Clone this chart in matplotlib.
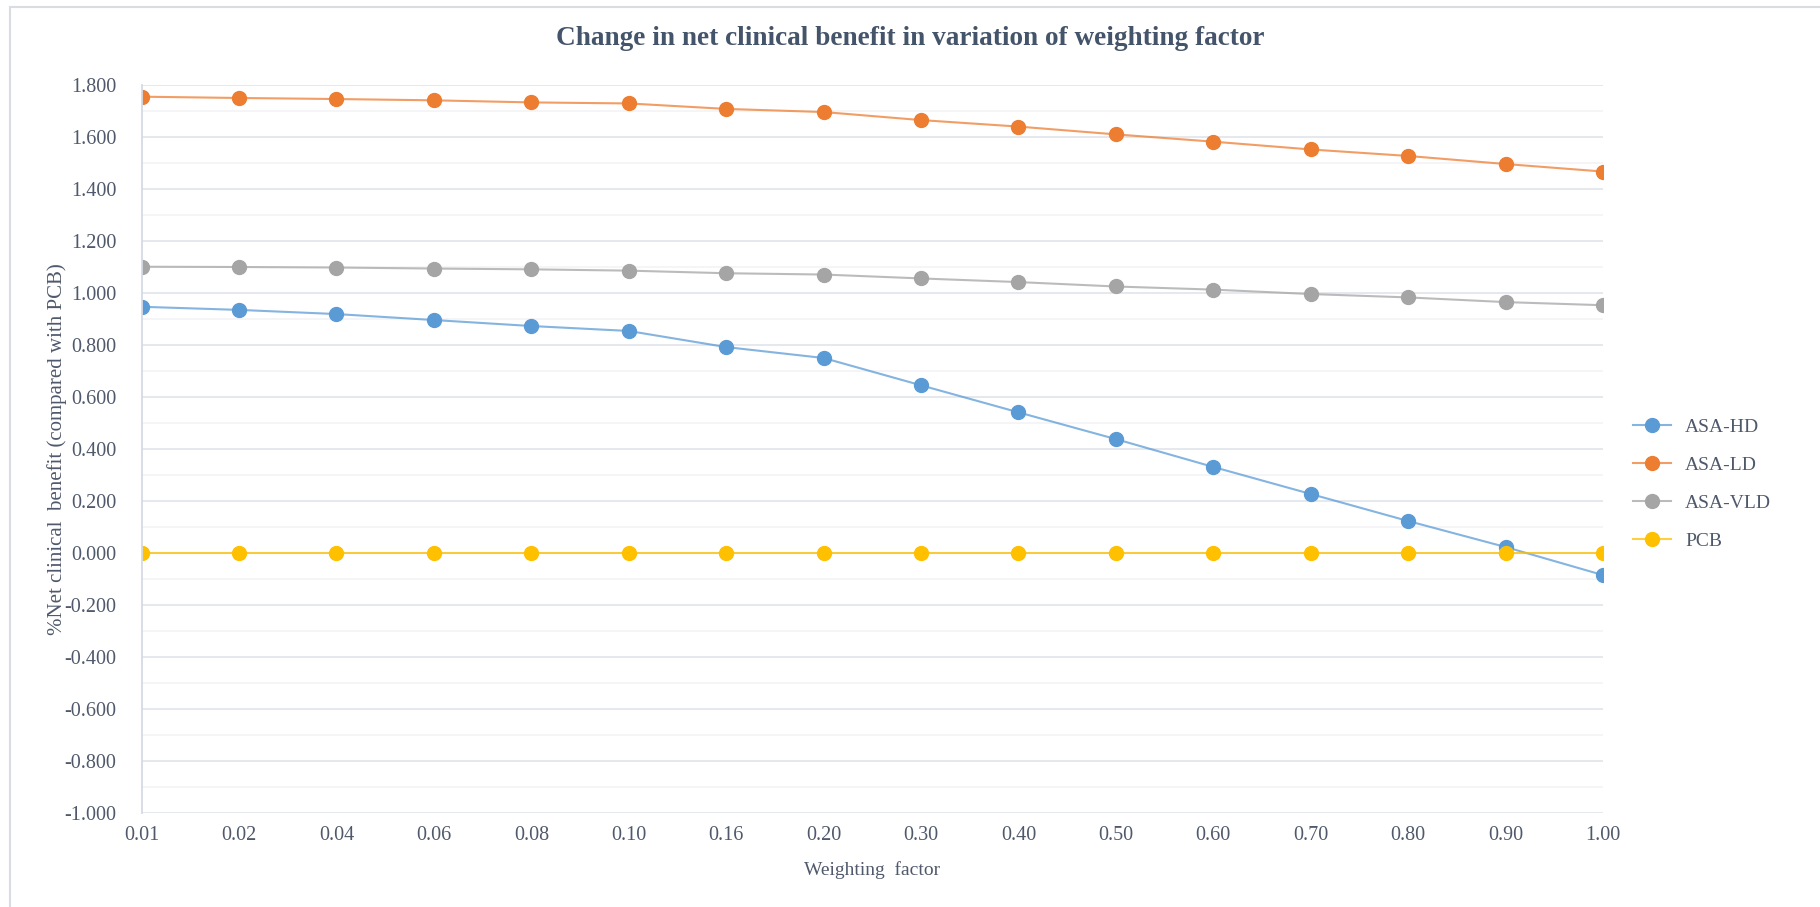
import matplotlib
matplotlib.use("Agg")
import matplotlib.pyplot as plt
from matplotlib.colors import to_rgba
from matplotlib.patches import Rectangle
from matplotlib.ticker import MultipleLocator, FormatStrFormatter

# Weighting factor categories (evenly spaced category axis, as in the source)
weights = ["0.01", "0.02", "0.04", "0.06", "0.08", "0.10", "0.16", "0.20",
           "0.30", "0.40", "0.50", "0.60", "0.70", "0.80", "0.90", "1.00"]

asa_hd = [0.947, 0.935, 0.919, 0.896, 0.873, 0.854, 0.792, 0.750,
          0.645, 0.541, 0.438, 0.331, 0.227, 0.123, 0.023, -0.085]
asa_ld = [1.755, 1.750, 1.746, 1.741, 1.733, 1.729, 1.708, 1.696,
          1.665, 1.640, 1.610, 1.582, 1.552, 1.527, 1.496, 1.467]
asa_vld = [1.101, 1.100, 1.098, 1.094, 1.091, 1.086, 1.076, 1.071,
           1.056, 1.042, 1.025, 1.013, 0.996, 0.983, 0.965, 0.953]
pcb = [0.0] * 16

series = [
    ("ASA-HD", asa_hd, "#5B9BD5"),
    ("ASA-LD", asa_ld, "#ED7D31"),
    ("ASA-VLD", asa_vld, "#A5A5A5"),
    ("PCB", pcb, "#FFC000"),
]

plt.rcParams["font.family"] = ["Liberation Serif", "DejaVu Serif"]
TEXT = "#4F596B"

fig = plt.figure(figsize=(18.2, 9.07), dpi=100)
ax = fig.add_axes([0.0778, 0.1036, 0.8030, 0.8027])

x = list(range(len(weights)))
for name, vals, col in series:
    # line a bit lighter than the solid markers, like the Excel original
    ax.plot(x, vals, color=to_rgba(col, 0.75), linewidth=1.5, marker="o",
            markersize=10, markerfacecolor=col, markeredgecolor=col, label=name)

ax.set_xlim(0, len(weights) - 1)
ax.set_ylim(-1.0, 1.8)
ax.set_xticks(x)
ax.set_xticklabels(weights)
ax.yaxis.set_major_locator(MultipleLocator(0.2))
ax.yaxis.set_minor_locator(MultipleLocator(0.1))
ax.yaxis.set_major_formatter(FormatStrFormatter("%.3f"))

ax.grid(axis="y", which="major", color="#E3E6EC", linewidth=1.3)
ax.grid(axis="y", which="minor", color="#F3F4F6", linewidth=1.2)
ax.set_axisbelow(True)
for s in ["top", "right", "bottom"]:
    ax.spines[s].set_visible(False)
ax.spines["left"].set_color("#D5DAE3")
ax.spines["left"].set_linewidth(1.3)

ax.tick_params(axis="both", which="both", length=0, labelsize=14.5, colors=TEXT)
ax.tick_params(axis="y", pad=18)
ax.tick_params(axis="x", pad=9)

ax.set_ylabel("%Net clinical  benefit (compared with PCB)", fontsize=15, color=TEXT, labelpad=-2)
ax.set_xlabel("Weighting  factor", fontsize=14, color=TEXT, labelpad=12)

fig.text(0.5, 0.958, "Change in net clinical benefit in variation of weighting factor",
         ha="center", va="center", fontsize=19.6, fontweight="bold", color="#44546A")

fig.legend(loc="center left", bbox_to_anchor=(0.897, 0.466), frameon=False,
           fontsize=14, handlelength=2.0, handletextpad=0.7, labelspacing=1.05,
           borderpad=0, borderaxespad=0, labelcolor=TEXT)

# light outer chart border (only top/left visible in the cropped source)
fig.patches.append(Rectangle((0.0055, -0.02), 1.1, 1.012, transform=fig.transFigure,
                             fill=False, edgecolor="#D9DDE3", linewidth=1.5))

fig.savefig("out.png", dpi=100)
